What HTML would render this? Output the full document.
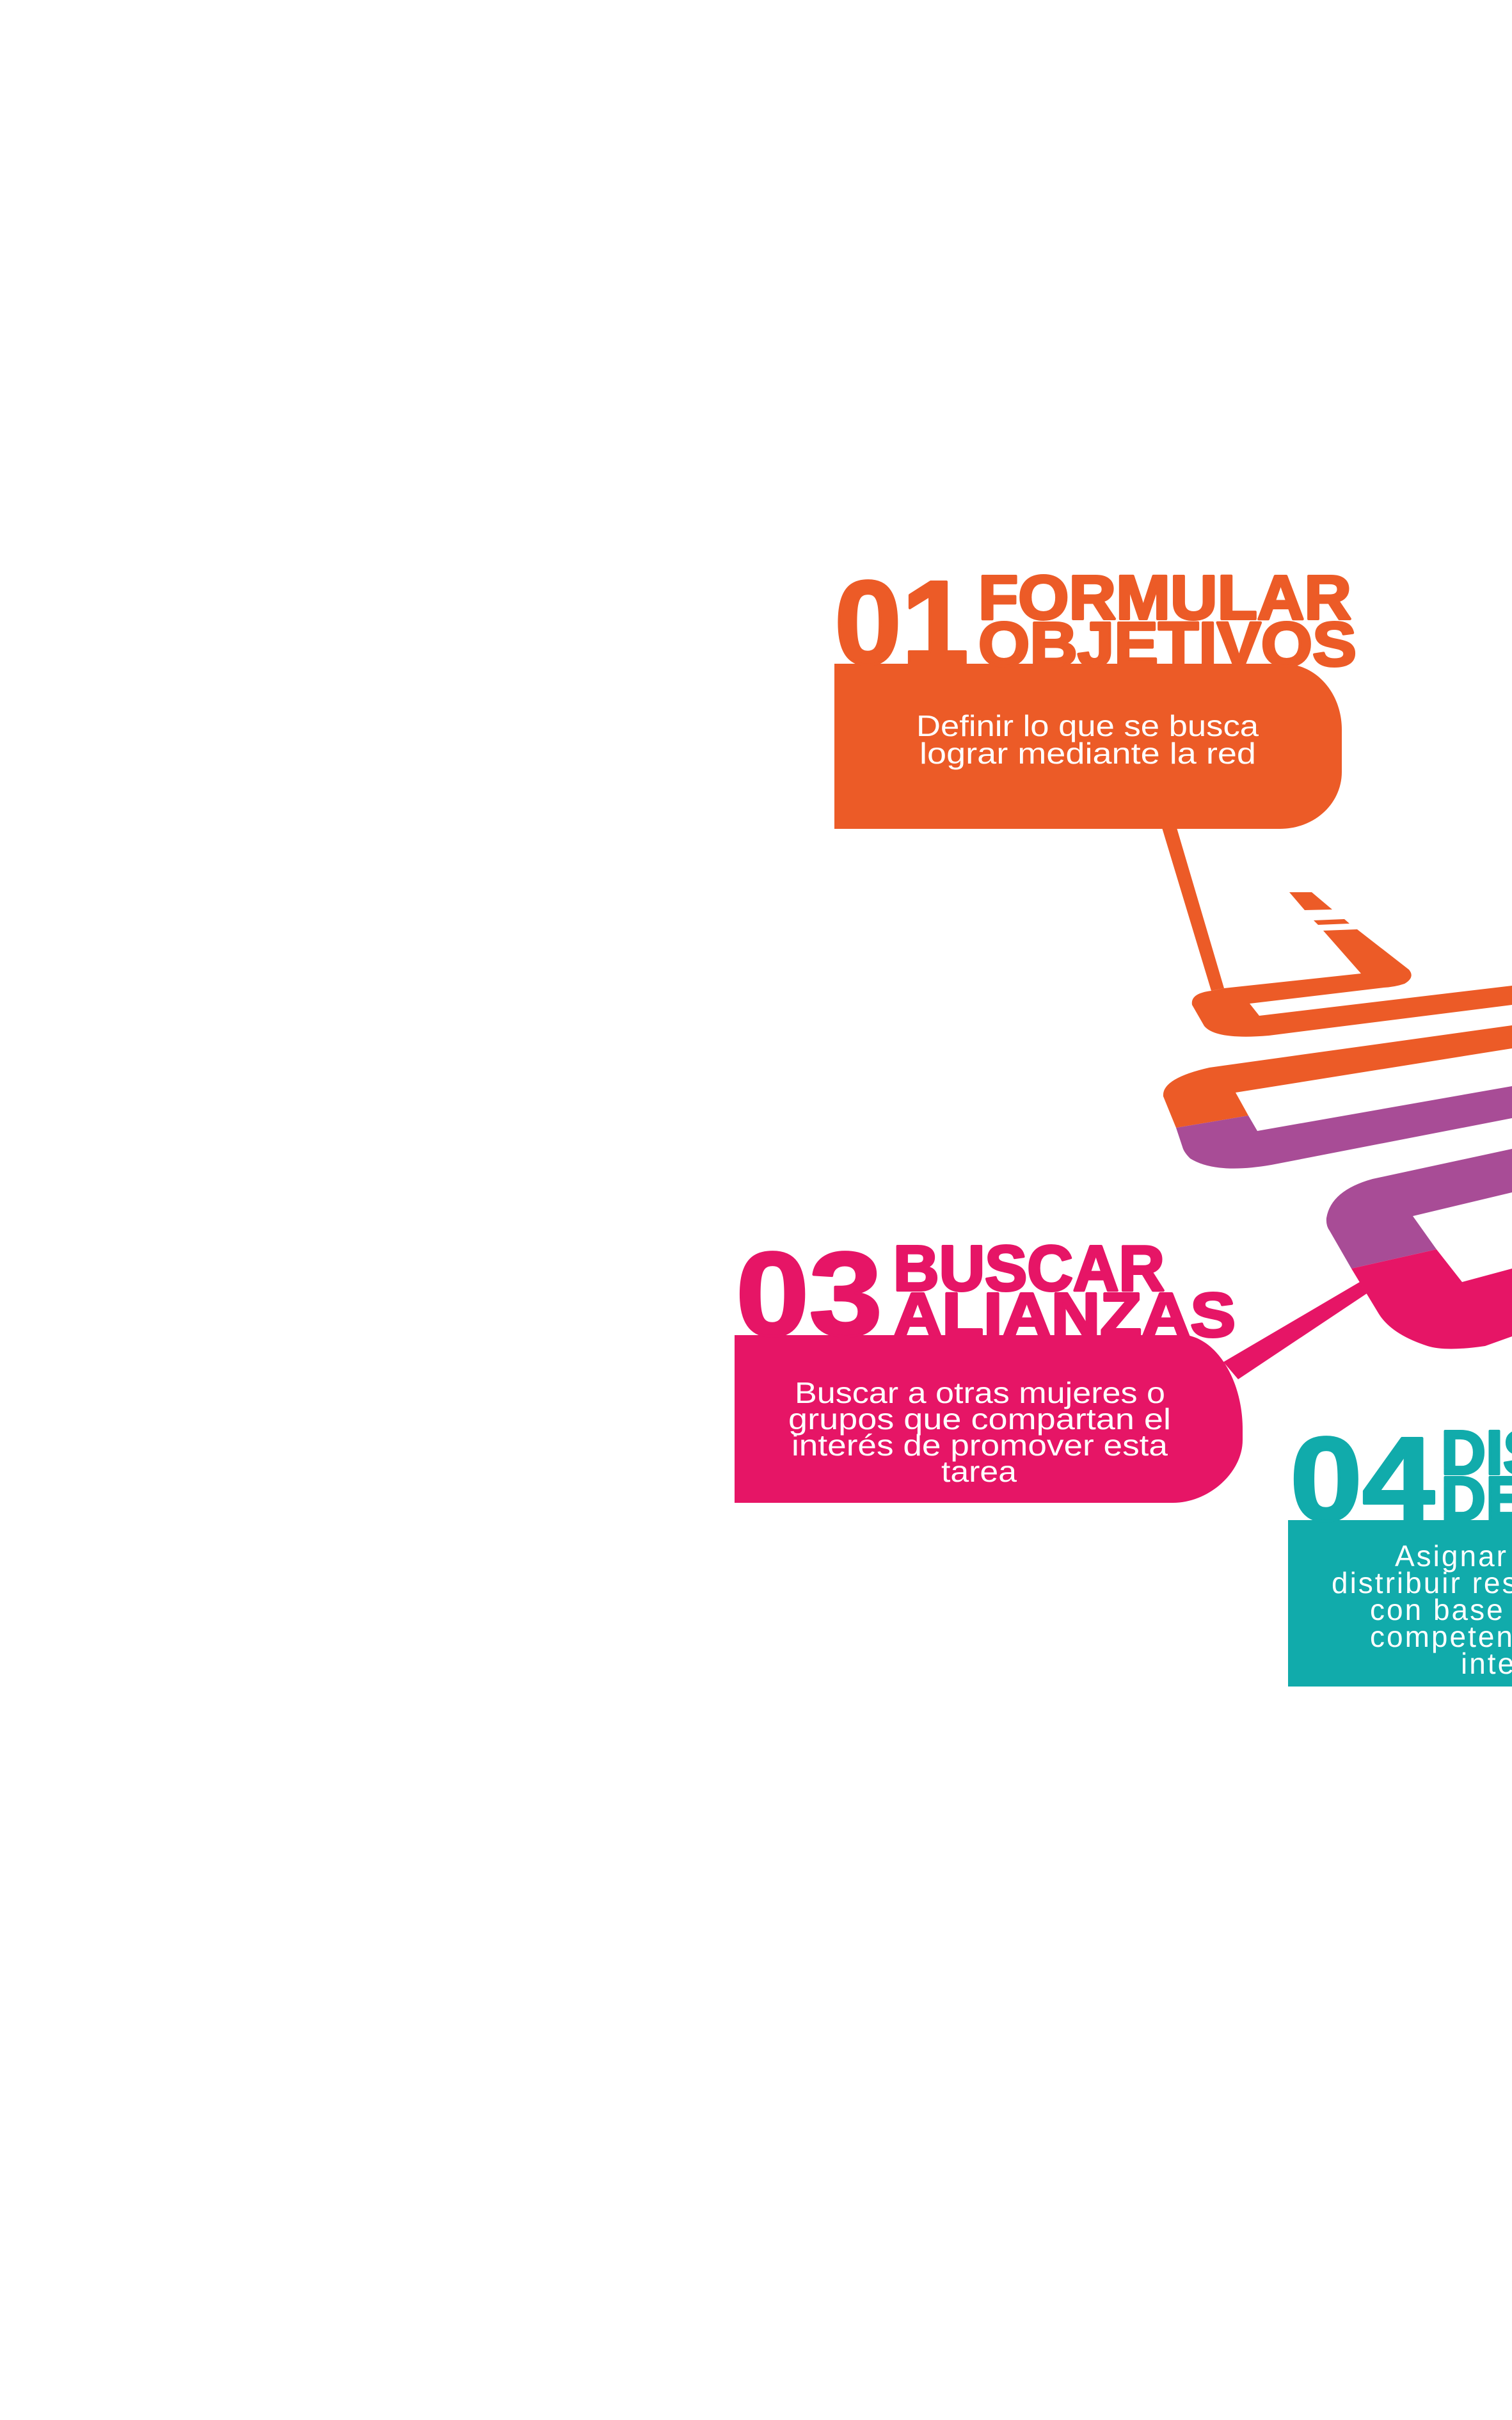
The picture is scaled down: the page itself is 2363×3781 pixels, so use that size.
<!DOCTYPE html>
<html><head><meta charset="utf-8">
<style>
html,body{margin:0;padding:0;background:#fff;}
svg{display:block;}
text{font-family:"Liberation Sans",sans-serif;}
.h{stroke-width:4;stroke-linejoin:round;}
</style></head>
<body>
<svg width="2363" height="3781" viewBox="0 0 2363 3781" xmlns="http://www.w3.org/2000/svg">
<rect width="2363" height="3781" fill="#fff"/>

<polygon points="1815,1290 1838,1290 1913,1544 1893,1548" fill="#EC5B27"/>
<polygon points="2015,1394 2050,1394 2082,1421 2039,1422" fill="#EC5B27"/>
<polygon points="2053,1438 2101,1436 2109,1443 2060,1445" fill="#EC5B27"/>
<path d="M2068,1454 L2121,1452 L2202,1515 Q2212,1527 2195,1537 Q2180,1542 2163,1543 L1953,1568 L1968,1587 L2363,1540 L2363,1570 L1983,1618 Q1900,1625 1882,1603 L1863,1570 Q1860,1552 1893,1548 L1913,1544 L2127,1521 Z" fill="#EC5B27"/>

<path d="M2363,1602 L1890,1668 Q1815,1685 1818,1713 L1838,1762 L1951,1743 L1931,1707 L2363,1638 Z" fill="#EC5B27"/>
<path d="M1838,1762 L1951,1743 L1965,1767 L2363,1697 L2363,1747 L1987,1820 Q1900,1835 1860,1810 Q1850,1800 1848,1792 Z" fill="#A84C96"/>

<path d="M2363,1795 L2145,1842 Q2080,1860 2073,1903 Q2072,1915 2078,1923 L2112,1982 L2245,1952 L2208,1900 L2363,1863 Z" fill="#A84C96"/>
<path d="M2112,1982 L2245,1952 L2285,2003 L2363,1982 L2363,2088 L2321,2103 Q2260,2112 2231,2103 Q2175,2085 2155,2053 Z" fill="#E61566"/>

<polygon points="2125,2003 2136,2021 1935,2155 1912,2128" fill="#E61566"/>

<!-- box 01 -->
<path d="M1304,1037 H2010 C2060,1040 2097,1085 2097,1140 V1206 C2097,1255 2055,1295 2000,1295 H1304 Z" fill="#EC5B27"/>
<text class="h" x="1304" y="1037" font-size="186" font-weight="bold" fill="#EC5B27" stroke="#EC5B27" textLength="210" lengthAdjust="spacingAndGlyphs">01</text>
<text class="h" x="1529" y="967" font-size="97" font-weight="bold" fill="#EC5B27" stroke="#EC5B27" textLength="583" lengthAdjust="spacingAndGlyphs">FORMULAR</text>
<text class="h" x="1529" y="1040" font-size="97" font-weight="bold" fill="#EC5B27" stroke="#EC5B27" textLength="591" lengthAdjust="spacingAndGlyphs">OBJETIVOS</text>
<text x="1432" y="1150" font-size="46" fill="#fff" textLength="535" lengthAdjust="spacingAndGlyphs">Definir lo que se busca</text>
<text x="1437" y="1193" font-size="46" fill="#fff" textLength="526" lengthAdjust="spacingAndGlyphs">lograr mediante la red</text>

<!-- box 03 -->
<path d="M1148,2086 H1855 C1905,2095 1942,2160 1942,2233 V2250 C1942,2300 1890,2348 1833,2348 H1148 Z" fill="#E61566"/>
<text class="h" x="1150" y="2086" font-size="186" font-weight="bold" fill="#E61566" stroke="#E61566" textLength="229" lengthAdjust="spacingAndGlyphs">03</text>
<text class="h" x="1396" y="2016" font-size="100" font-weight="bold" fill="#E61566" stroke="#E61566" textLength="424" lengthAdjust="spacingAndGlyphs">BUSCAR</text>
<text class="h" x="1396" y="2088" font-size="97" font-weight="bold" fill="#E61566" stroke="#E61566" textLength="535" lengthAdjust="spacingAndGlyphs">ALIANZAS</text>
<text x="1242" y="2192" font-size="46" fill="#fff" textLength="579" lengthAdjust="spacingAndGlyphs">Buscar a otras mujeres o</text>
<text x="1232" y="2233" font-size="46" fill="#fff" textLength="598" lengthAdjust="spacingAndGlyphs">grupos que compartan el</text>
<text x="1237" y="2274" font-size="46" fill="#fff" textLength="588" lengthAdjust="spacingAndGlyphs">interés de promover esta</text>
<text x="1471" y="2315" font-size="46" fill="#fff" textLength="118" lengthAdjust="spacingAndGlyphs">tarea</text>

<!-- box 04 -->
<rect x="2013" y="2375" width="400" height="260" fill="#11ABAB"/>
<text class="h" x="2016" y="2375" font-size="186" font-weight="bold" fill="#11ABAB" stroke="#11ABAB" textLength="226" lengthAdjust="spacingAndGlyphs">04</text>
<text class="h" x="2252" y="2303" font-size="97" font-weight="bold" fill="#11ABAB" stroke="#11ABAB">DISTRIBUIR</text>
<text class="h" x="2252" y="2375" font-size="97" font-weight="bold" fill="#11ABAB" stroke="#11ABAB">DEBERES</text>
<g font-size="46" fill="#fff" letter-spacing="3">
<text x="2180" y="2447">Asignar y</text>
<text x="2081" y="2489">distribuir responsabilidades</text>
<text x="2141" y="2531">con base en</text>
<text x="2141" y="2573">competencias e</text>
<text x="2283" y="2615">intereses</text>
</g>
</svg>
</body></html>
